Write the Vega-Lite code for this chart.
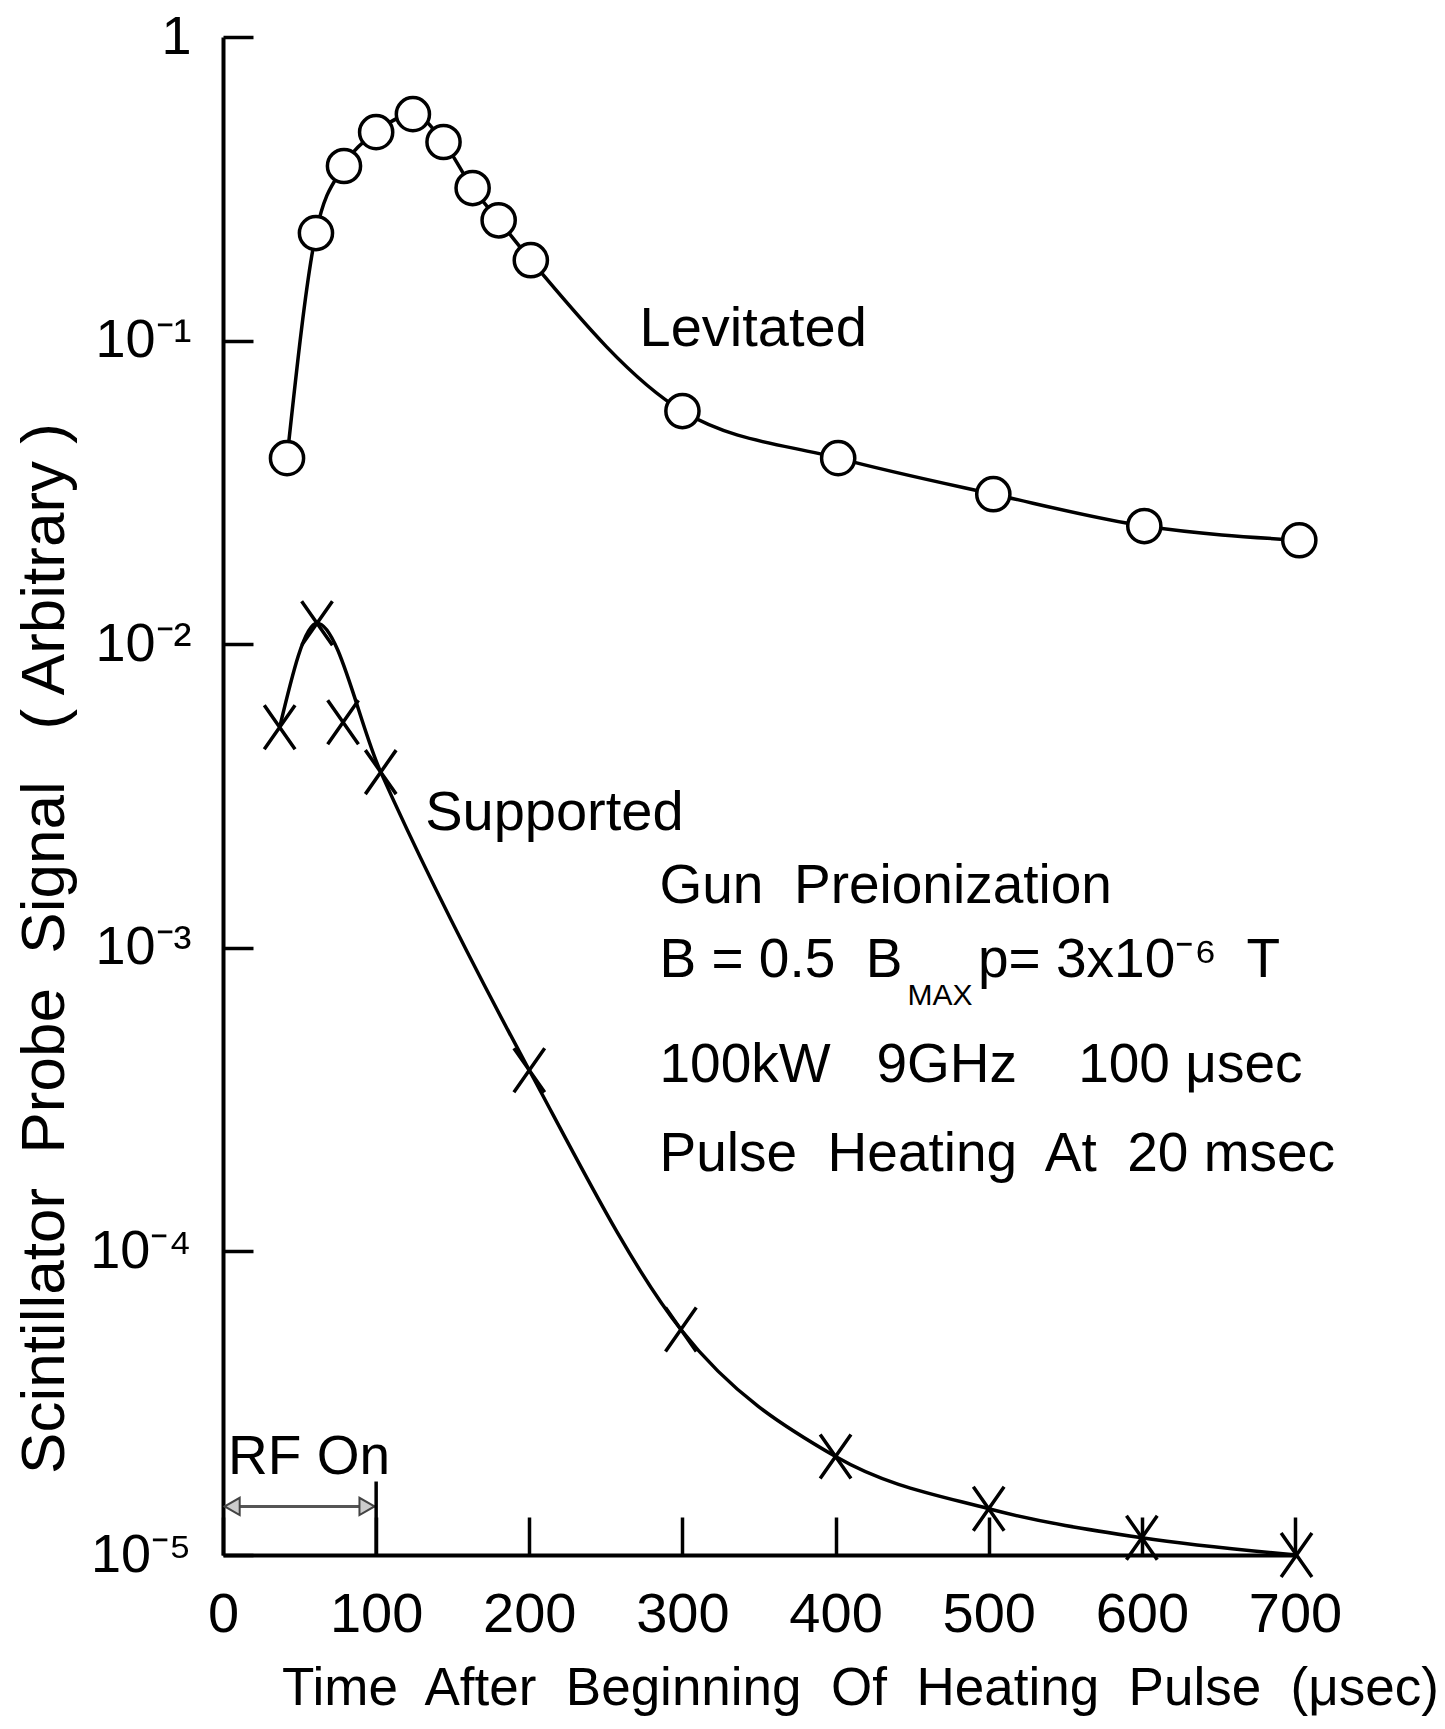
{
  "$schema": "https://vega.github.io/schema/vega-lite/v6.json",
  "width": 1072,
  "height": 1518,
  "autosize": "none",
  "padding": {"left": 223, "top": 37, "right": 150, "bottom": 174},
  "background": "white",
  "config": {"view": {"stroke": null}, "font": "Liberation Sans"},
  "datasets": {
    "levitated": [
      {"t": 41.8, "s": 0.041}, {"t": 60.7, "s": 0.226}, {"t": 79, "s": 0.376},
      {"t": 100, "s": 0.486}, {"t": 124, "s": 0.557}, {"t": 144, "s": 0.451},
      {"t": 163, "s": 0.318}, {"t": 180, "s": 0.249}, {"t": 201, "s": 0.184},
      {"t": 300, "s": 0.0586}, {"t": 401.7, "s": 0.041}, {"t": 503, "s": 0.0312},
      {"t": 601.6, "s": 0.0245}, {"t": 702.8, "s": 0.022}
    ],
    "supported": [
      {"t": 37, "s": 0.00533}, {"t": 61.4, "s": 0.01173}, {"t": 78.4, "s": 0.00553},
      {"t": 103, "s": 0.00379}, {"t": 200, "s": 0.000395}, {"t": 299, "s": 0.0000553},
      {"t": 400, "s": 0.0000211}, {"t": 500, "s": 0.0000142}, {"t": 600, "s": 0.0000114},
      {"t": 701, "s": 0.00001}
    ],
    "notes": [
      {"t": 272, "s": 0.109, "label": "Levitated", "grp": "big"},
      {"t": 132, "s": 0.00277, "label": "Supported", "grp": "big"},
      {"t": 285, "s": 0.001595, "label": "Gun\u00a0 Preionization", "grp": "block"},
      {"t": 285, "s": 0.00091, "label": "B = 0.5\u00a0 B", "grp": "block"},
      {"t": 493, "s": 0.00091, "label": "p= 3x10⁻⁶\u00a0 T", "grp": "block"},
      {"t": 285, "s": 0.00041, "label": "100kW\u00a0\u00a0 9GHz\u00a0\u00a0\u00a0 100 μsec", "grp": "block"},
      {"t": 285, "s": 0.00021, "label": "Pulse\u00a0 Heating\u00a0 At\u00a0 20 msec", "grp": "block"},
      {"t": 3.3, "s": 0.0000211, "label": "RF On", "grp": "block"}
    ],
    "sub": [{"t": 447, "s": 0.000695, "label": "MAX"}],
    "rfarrow": [{"t": 1, "t2": 99, "s": 0.00001445}],
    "rfheads": [
      {"t": 6, "s": 0.00001445, "dir": "left"},
      {"t": 94, "s": 0.00001445, "dir": "right"}
    ],
    "rftick": [{"t": 100, "s": 0.00001, "s2": 0.00001746}]
  },
  "layer": [
    {
      "data": {"name": "levitated"},
      "mark": {"type": "line", "interpolate": "monotone", "stroke": "black", "strokeWidth": 3.5},
      "encoding": {
        "x": {
          "field": "t", "type": "quantitative",
          "scale": {"domain": [0, 700], "nice": false, "zero": false},
          "axis": {
            "values": [0, 100, 200, 300, 400, 500, 600, 700],
            "grid": false,
            "tickSize": -38, "tickWidth": 3.5, "tickColor": "black",
            "domainColor": "black", "domainWidth": 4,
            "labelFontSize": 56, "labelColor": "black", "labelPadding": 70,
            "labelFont": "Liberation Sans", "labelFlush": false, "labelOverlap": false,
            "title": "Time\u00a0 After\u00a0 Beginning\u00a0 Of\u00a0 Heating\u00a0 Pulse\u00a0 (μsec)",
            "titleFont": "Liberation Sans", "titleFontSize": 53, "titleFontWeight": "normal",
            "titleColor": "black", "titleX": 637, "titleY": 133,
            "titleAlign": "center", "titleBaseline": "middle"
          }
        },
        "y": {
          "field": "s", "type": "quantitative",
          "scale": {"type": "log", "domain": [0.00001, 1], "nice": false},
          "axis": {
            "values": [0.00001, 0.0001, 0.001, 0.01, 0.1, 1],
            "grid": false,
            "tickSize": -30, "tickWidth": 3.5, "tickColor": "black",
            "domainColor": "black", "domainWidth": 4,
            "labelFontSize": 54, "labelColor": "black", "labelPadding": 62,
            "labelFont": "Liberation Sans", "labelFlush": false, "labelOverlap": false,
            "labelExpr": "['10⁻⁵','10⁻⁴','10⁻³','10⁻²','10⁻¹','1'][round(log(datum.value)/LN10)+5]",
            "title": "Scintillator\u00a0 Probe\u00a0 Signal\u00a0\u00a0 ( Arbitrary )",
            "titleFont": "Liberation Sans", "titleFontSize": 62, "titleFontWeight": "normal",
            "titleColor": "black", "titleX": -179, "titleY": 911,
            "titleAlign": "center", "titleBaseline": "middle", "titleAngle": -90
          }
        }
      }
    },
    {
      "data": {"name": "levitated"},
      "mark": {"type": "point", "shape": "circle", "filled": true, "fill": "white", "stroke": "black", "strokeWidth": 3.5, "size": 1100, "opacity": 1},
      "encoding": {
        "x": {"field": "t", "type": "quantitative"},
        "y": {"field": "s", "type": "quantitative"}
      }
    },
    {
      "data": {"name": "supported"},
      "transform": [{"filter": "datum.t != 78.4"}],
      "mark": {"type": "line", "interpolate": "monotone", "stroke": "black", "strokeWidth": 3.5},
      "encoding": {
        "x": {"field": "t", "type": "quantitative"},
        "y": {"field": "s", "type": "quantitative"}
      }
    },
    {
      "data": {"name": "supported"},
      "mark": {"type": "point", "shape": "M-0.7,-1L0.7,1M0.7,-1L-0.7,1", "filled": false, "stroke": "black", "strokeWidth": 3.5, "size": 1936, "opacity": 1},
      "encoding": {
        "x": {"field": "t", "type": "quantitative"},
        "y": {"field": "s", "type": "quantitative"}
      }
    },
    {
      "data": {"name": "notes"},
      "transform": [{"filter": "datum.grp == 'big'"}],
      "mark": {"type": "text", "align": "left", "baseline": "middle", "fontSize": 56, "font": "Liberation Sans", "color": "black"},
      "encoding": {
        "x": {"field": "t", "type": "quantitative"},
        "y": {"field": "s", "type": "quantitative"},
        "text": {"field": "label"}
      }
    },
    {
      "data": {"name": "notes"},
      "transform": [{"filter": "datum.grp == 'block'"}],
      "mark": {"type": "text", "align": "left", "baseline": "middle", "fontSize": 55, "font": "Liberation Sans", "color": "black"},
      "encoding": {
        "x": {"field": "t", "type": "quantitative"},
        "y": {"field": "s", "type": "quantitative"},
        "text": {"field": "label"}
      }
    },
    {
      "data": {"name": "sub"},
      "mark": {"type": "text", "align": "left", "baseline": "middle", "fontSize": 30, "font": "Liberation Sans", "color": "black"},
      "encoding": {
        "x": {"field": "t", "type": "quantitative"},
        "y": {"field": "s", "type": "quantitative"},
        "text": {"field": "label"}
      }
    },
    {
      "data": {"name": "rfarrow"},
      "mark": {"type": "rule", "stroke": "#555555", "strokeWidth": 3},
      "encoding": {
        "x": {"field": "t", "type": "quantitative"},
        "x2": {"field": "t2"},
        "y": {"field": "s", "type": "quantitative"}
      }
    },
    {
      "data": {"name": "rfheads"},
      "mark": {"type": "point", "filled": true, "fill": "#cccccc", "stroke": "#444444", "strokeWidth": 2, "size": 300, "opacity": 1},
      "encoding": {
        "x": {"field": "t", "type": "quantitative"},
        "y": {"field": "s", "type": "quantitative"},
        "shape": {
          "field": "dir", "type": "nominal",
          "scale": {"domain": ["left", "right"], "range": ["triangle-left", "triangle-right"]},
          "legend": null
        }
      }
    },
    {
      "data": {"name": "rftick"},
      "mark": {"type": "rule", "stroke": "black", "strokeWidth": 3.5},
      "encoding": {
        "x": {"field": "t", "type": "quantitative"},
        "y": {"field": "s", "type": "quantitative"},
        "y2": {"field": "s2"}
      }
    }
  ]
}
